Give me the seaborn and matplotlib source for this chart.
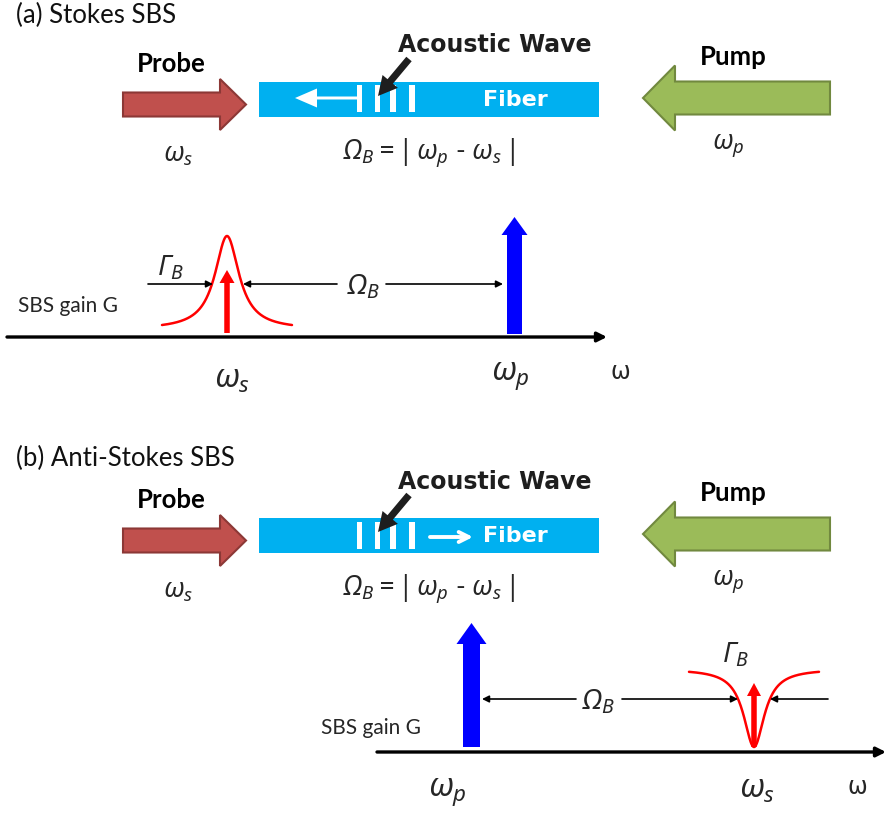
import numpy as np
import matplotlib
matplotlib.use("Agg")
import matplotlib.pyplot as plt
from matplotlib.patches import FancyArrow, Rectangle
import seaborn as sns

sns.set_theme(style="white")
plt.rcParams['font.family'] = ['Lato', 'DejaVu Sans']
plt.rcParams['mathtext.fontset'] = 'custom'
plt.rcParams['mathtext.rm'] = 'Noto Sans:italic'
plt.rcParams['mathtext.it'] = 'Noto Sans:italic'
plt.rcParams['mathtext.bf'] = 'Noto Sans:bold'

# ---------------- diagram content ----------------
panel_titles = ["(a) Stokes SBS", "(b) Anti-Stokes SBS"]
panel_offsets = [0, 436]          # vertical offset of the upper (fiber) row of each panel
probe_label = "Probe"
pump_label = "Pump"
fiber_label = "Fiber"
acoustic_label = "Acoustic Wave"
relation_label = r"$\Omega_B = |\,\omega_p$ - $\omega_s\,|$"
gain_label = "SBS gain G"
wave_dir = [-1, 1]                # acoustic / light travel direction in fiber
bar_x = [359.5, 377.5, 393, 412]

# spectrum rows: positions of pump (blue) and Stokes (red) lines and Lorentzian gain
spec_axis_y = [337, 752]
spec_axis_x = [(7, 607), (377, 886)]
pump_x = [514.5, 471.5]
stokes_x = [227, 754]
lor_gamma = [14.6, 12.6]
lor_height = [93.5, 78]
lor_base = [329.5, 669]           # baseline of the Lorentzian (px)
lor_sign = [-1, 1]                # gain peak (a) / loss dip (b)
lor_halfspan = 65

RED = "#FF0000"
BLUE = "#0000FF"
CYAN = "#00B0F0"
PROBE_FC, PROBE_EC = "#C0504D", "#8C3836"
PUMP_FC, PUMP_EC = "#9BBB59", "#71893F"

fig = plt.figure(figsize=(8.86, 8.14), dpi=100)
ax = fig.add_axes([0, 0, 1, 1])
ax.set_xlim(0, 886)
ax.set_ylim(814, 0)
ax.axis("off")

MATH = 19
SPEC = 20
OMEGA = 23

for i, off in enumerate(panel_offsets):
    # titles
    ax.text(16, 15 + off + (i * 7), panel_titles[i], fontsize=18.5, ha="left", va="center",
            color="#111111")
    # probe arrow
    yc = 104.5 + off
    ax.add_patch(FancyArrow(123, yc, 123, 0, width=24, head_width=51, head_length=26,
                            length_includes_head=True, fc=PROBE_FC, ec=PROBE_EC, lw=1.5))
    ax.text(171, 64 + off, probe_label, fontsize=18.5, fontweight="bold", ha="center",
            va="center", color="black")
    ax.text(178, 155 + off, r"$\omega_s$", fontsize=MATH, ha="center", va="center")
    # pump arrow
    yp = 98 + off
    ax.add_patch(FancyArrow(830, yp, -187, 0, width=33, head_width=65, head_length=32,
                            length_includes_head=True, fc=PUMP_FC, ec=PUMP_EC, lw=1.5))
    ax.text(733, 57 + off, pump_label, fontsize=18.5, fontweight="bold", ha="center",
            va="center", color="black")
    ax.text(728, 146 + off, r"$\omega_p$", fontsize=MATH, ha="center", va="center")
    # fiber
    ax.add_patch(Rectangle((259, 82 + off), 340, 35, fc=CYAN, ec="none"))
    ax.text(515, 100 + off, fiber_label, fontsize=16, fontweight="bold",
            family="DejaVu Sans", color="white", ha="center", va="center")
    for bx in bar_x:
        ax.add_patch(Rectangle((bx - 2.7, 85 + off + i * 1), 5.4, 27, fc="white", ec="none"))
    if wave_dir[i] < 0:
        ax.add_patch(FancyArrow(358, 98 + off, -63, 0, width=3, head_width=19,
                                head_length=22, length_includes_head=True,
                                fc="white", ec="none"))
    else:
        ax.annotate("", xy=(473, 101 + off), xytext=(430, 101 + off),
                    arrowprops=dict(arrowstyle="->", color="white", lw=2.8,
                                    mutation_scale=18, shrinkA=0, shrinkB=0))
    # acoustic wave label and pointer
    ax.text(495, 45 + off + i, acoustic_label, fontsize=17, fontweight="bold",
            family="DejaVu Sans", color="#1E1E1E", ha="center", va="center")
    ax.add_patch(FancyArrow(409, 59 + off, -31, 37, width=7, head_width=20, head_length=19,
                            length_includes_head=True, fc="#1E1E1E", ec="none"))
    ax.text(429, 153 + off, relation_label, fontsize=MATH, ha="center", va="center")

    # ---------------- spectrum row ----------------
    ya = spec_axis_y[i]
    x0, x1 = spec_axis_x[i]
    ax.annotate("", xy=(x1, ya), xytext=(x0, ya),
                arrowprops=dict(arrowstyle="-|>", color="black", lw=2.4,
                                mutation_scale=14, shrinkA=0, shrinkB=0))
    # Lorentzian
    c = stokes_x[i]
    xs = np.linspace(c - lor_halfspan, c + lor_halfspan, 300)
    L = lor_gamma[i] ** 2 / ((xs - c) ** 2 + lor_gamma[i] ** 2)
    ys = lor_base[i] + lor_sign[i] * lor_height[i] * L
    sns.lineplot(x=xs, y=ys, ax=ax, color=RED, lw=1.8, sort=False, legend=False)

ax.set_xlim(0, 886)
ax.set_ylim(814, 0)
ax.axis("off")

# --- panel (a) spectrum marks ---
ax.add_patch(FancyArrow(stokes_x[0], 333, 0, -63, width=5.5, head_width=15, head_length=13,
                        length_includes_head=True, fc=RED, ec="none"))
ax.add_patch(FancyArrow(pump_x[0], 334, 0, -117, width=15, head_width=26, head_length=18,
                        length_includes_head=True, fc=BLUE, ec="none"))
thin = dict(arrowstyle="-|>", color="black", lw=1.2, mutation_scale=10, shrinkA=0, shrinkB=0)
ax.annotate("", xy=(213, 284), xytext=(148, 284), arrowprops=thin)
ax.annotate("", xy=(243, 284), xytext=(337, 284), arrowprops=thin)
ax.annotate("", xy=(503, 284), xytext=(386, 284), arrowprops=thin)
ax.text(364, 287, r"$\Omega_B$", fontsize=SPEC, ha="center", va="center")
ax.text(170, 268, r"$\Gamma_B$", fontsize=SPEC, ha="center", va="center")
ax.text(18, 306, gain_label, fontsize=15, ha="left", va="center")
ax.text(232, 380, r"$\omega_s$", fontsize=OMEGA, ha="center", va="center")
ax.text(510, 376, r"$\omega_p$", fontsize=OMEGA, ha="center", va="center")
ax.text(620, 372, "ω", fontsize=17, family="DejaVu Sans", ha="center", va="center")

# --- panel (b) spectrum marks ---
ax.add_patch(FancyArrow(stokes_x[1], 747, 0, -64, width=5.5, head_width=14, head_length=13,
                        length_includes_head=True, fc=RED, ec="none"))
ax.add_patch(FancyArrow(pump_x[1], 747, 0, -124, width=17, head_width=30, head_length=21,
                        length_includes_head=True, fc=BLUE, ec="none"))
ax.annotate("", xy=(482, 699), xytext=(576, 699), arrowprops=thin)
ax.annotate("", xy=(738, 699), xytext=(622, 699), arrowprops=thin)
ax.annotate("", xy=(770, 699), xytext=(828, 699), arrowprops=thin)
ax.text(599, 702, r"$\Omega_B$", fontsize=SPEC, ha="center", va="center")
ax.text(735, 655, r"$\Gamma_B$", fontsize=SPEC, ha="center", va="center")
ax.text(321, 728, gain_label, fontsize=15, ha="left", va="center")
ax.text(447, 792, r"$\omega_p$", fontsize=OMEGA, ha="center", va="center")
ax.text(757, 790, r"$\omega_s$", fontsize=OMEGA, ha="center", va="center")
ax.text(857, 787, "ω", fontsize=17, family="DejaVu Sans", ha="center", va="center")

fig.savefig("out.png", dpi=100)
